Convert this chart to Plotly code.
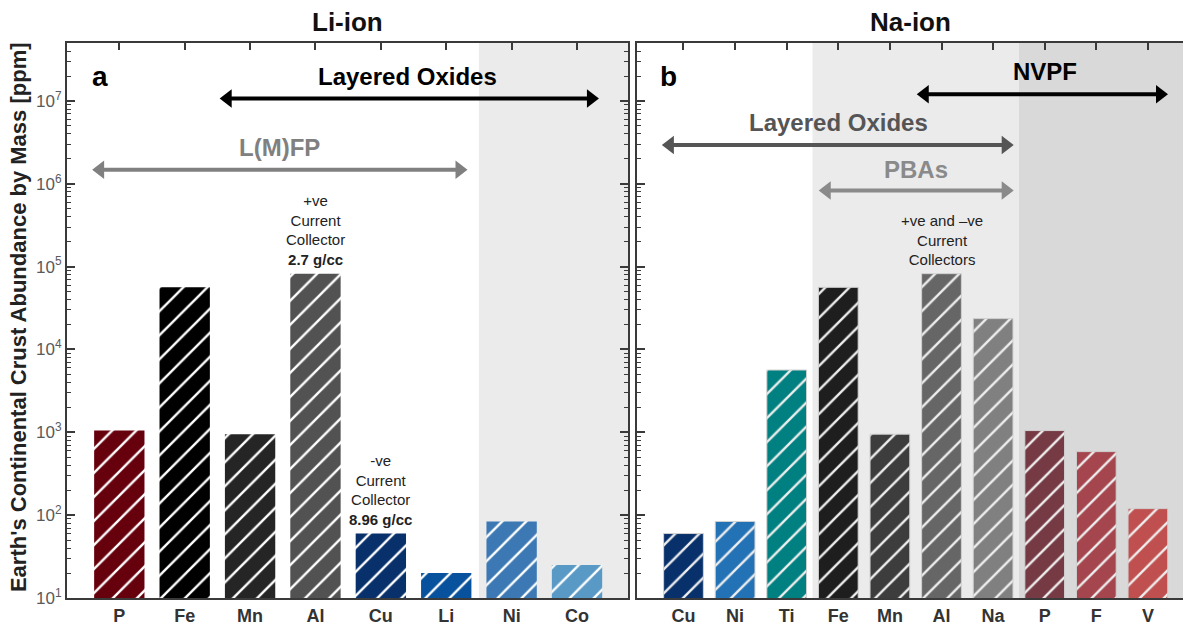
import math
import plotly.graph_objects as go

# Crustal abundances (ppm by mass)
li_elements = ["P", "Fe", "Mn", "Al", "Cu", "Li", "Ni", "Co"]
li_abundance = [1050, 56300, 950, 82300, 60, 20, 84, 25]
li_colors = ["#67000d", "#000000", "#252525", "#525252",
             "#08306b", "#08519c", "#3c79b4", "#5999c5"]

na_elements = ["Cu", "Ni", "Ti", "Fe", "Mn", "Al", "Na", "P", "F", "V"]
na_abundance = [60, 84, 5650, 56300, 950, 82300, 23600, 1050, 585, 120]
na_colors = ["#08306b", "#2472b6", "#008080", "#1e1e1e", "#3d3d3d",
             "#666666", "#808080", "#763a44", "#a5454d", "#c0504f"]

decades = [1, 2, 3, 4, 5, 6, 7]
tick_text = [f"10<sup>{d}</sup>" for d in decades]

FONT = "Arial, Liberation Sans, sans-serif"
AXIS_COLOR = "#3a3a3a"

LI_RANGE = [-0.8, 7.78]
NA_RANGE = [-0.9, 9.68]
LI_DOMAIN = [0, 0.5027]
NA_DOMAIN = [0.5108, 1]
PLOT_W = 1183 - 67


def hatched(colors, hatch_color, outline):
    # In "replace" mode the marker colour draws the hatch strokes and the
    # pattern background carries each bar's own fill colour.
    return dict(
        color=hatch_color,
        line=outline,
        pattern=dict(shape="/", fillmode="replace", bgcolor=list(colors),
                     size=17, solidity=0.14),
    )


fig = go.Figure()

fig.add_trace(go.Bar(
    x=list(range(len(li_elements))), y=li_abundance, xaxis="x", yaxis="y",
    marker=hatched(li_colors, "#ffffff", dict(width=0)),
    showlegend=False, hoverinfo="skip",
))
fig.add_trace(go.Bar(
    x=list(range(len(na_elements))), y=na_abundance, xaxis="x2", yaxis="y2",
    marker=hatched(na_colors, "#eeeeee", dict(width=1, color="#d0d0d0")),
    showlegend=False, hoverinfo="skip",
))

minor_vals = [m * 10 ** d for d in range(1, 8) for m in range(2, 10)]

def y_axis(show_labels, mirror):
    return dict(
        type="log", range=[1, 7.7],
        tickvals=[10 ** d for d in decades], ticktext=tick_text,
        showticklabels=show_labels,
        tickfont=dict(family=FONT, size=17, color="#5a5a5a"),
        ticks="inside", ticklen=8, tickwidth=1.5, tickcolor=AXIS_COLOR,
        minor=dict(tickmode="array", tickvals=minor_vals, ticks="inside",
                   ticklen=4, tickwidth=1, tickcolor=AXIS_COLOR),
        showline=True, linecolor=AXIS_COLOR, linewidth=2,
        mirror=mirror, showgrid=False, zeroline=False,
    )

def x_axis(labels, rng, domain, anchor):
    return dict(
        domain=domain, anchor=anchor, range=rng,
        tickmode="array", tickvals=list(range(len(labels))), ticktext=labels,
        tickfont=dict(family=FONT, size=18, color="#333333", weight="bold"),
        ticks="inside", ticklen=7, tickwidth=1.5, tickcolor=AXIS_COLOR,
        showline=True, linecolor=AXIS_COLOR, linewidth=2,
        mirror="ticks", layer="below traces",
        showgrid=False, zeroline=False,
    )

fig.update_layout(
    width=1183, height=626,
    margin=dict(l=67, r=0, t=43, b=24),
    plot_bgcolor="white", paper_bgcolor="white",
    bargap=0.23,
    xaxis=x_axis(li_elements, LI_RANGE, LI_DOMAIN, "y"),
    yaxis=y_axis(True, "allticks"),
    xaxis2=x_axis(na_elements, NA_RANGE, NA_DOMAIN, "y2"),
    yaxis2=dict(y_axis(False, False), anchor="x2"),
)

# Shaded bands
fig.add_shape(type="rect", xref="x", yref="paper", x0=5.5, x1=LI_RANGE[1], y0=0, y1=1,
              fillcolor="#ebebeb", line_width=0, layer="below")
fig.add_shape(type="rect", xref="x2", yref="paper", x0=2.5, x1=6.5, y0=0, y1=1,
              fillcolor="#ebebeb", line_width=0, layer="below")
fig.add_shape(type="rect", xref="x2", yref="paper", x0=6.5, x1=NA_RANGE[1], y0=0, y1=1,
              fillcolor="#d9d9d9", line_width=0, layer="below")


def span_arrow(axes, x0, x1, level, color):
    """Double-headed horizontal arrow drawn as a line with triangle heads."""
    xa, ya = axes
    rng, dom = (LI_RANGE, LI_DOMAIN) if xa == "x" else (NA_RANGE, NA_DOMAIN)
    px_per_unit = (dom[1] - dom[0]) * PLOT_W / (rng[1] - rng[0])
    head = 16
    d = (head / 2 - 1) / px_per_unit
    fig.add_trace(go.Scatter(
        x=[x0 + d, x1 - d], y=[10 ** level] * 2, xaxis=xa, yaxis=ya,
        mode="lines+markers", line=dict(color=color, width=4),
        marker=dict(symbol=["triangle-left", "triangle-right"], size=head,
                    color=color, line=dict(width=0)),
        showlegend=False, hoverinfo="skip", cliponaxis=False,
    ))


def label(xr, yr, x, y, text, color, size=24):
    return dict(x=x, y=y, xref=xr, yref=yr, text=f"<b>{text}</b>", showarrow=False,
                font=dict(family=FONT, size=size, color=color))

annotations = []

# Li-ion chemistries
span_arrow(("x", "y"), 1.55, 7.32, 7.03, "#000000")
span_arrow(("x", "y"), -0.4, 5.31, 6.17, "#808080")
annotations += [
    label("x", "y", 4.4, 7.29, "Layered Oxides", "#000000"),
    label("x", "y", 2.45, 6.44, "L(M)FP", "#808080"),
]
# Na-ion chemistries
span_arrow(("x2", "y2"), 4.54, 9.37, 7.08, "#000000")
span_arrow(("x2", "y2"), -0.4, 6.38, 6.47, "#555555")
span_arrow(("x2", "y2"), 2.64, 6.38, 5.92, "#8a8a8a")
annotations += [
    label("x2", "y2", 7.0, 7.35, "NVPF", "#000000"),
    label("x2", "y2", 3.0, 6.74, "Layered Oxides", "#555555"),
    label("x2", "y2", 4.5, 6.17, "PBAs", "#8a8a8a"),
]

# Current collector notes
def note(xr, yr, idx, value, text):
    return dict(x=idx, y=math.log10(value), xref=xr, yref=yr, text=text,
                showarrow=False, yanchor="bottom", yshift=4,
                font=dict(family=FONT, size=15, color="#222222"))

annotations += [
    note("x", "y", li_elements.index("Al"), li_abundance[li_elements.index("Al")],
         "+ve<br>Current<br>Collector<br><b>2.7 g/cc</b>"),
    note("x", "y", li_elements.index("Cu"), li_abundance[li_elements.index("Cu")],
         "-ve<br>Current<br>Collector<br><b>8.96 g/cc</b>"),
    note("x2", "y2", na_elements.index("Al"), na_abundance[na_elements.index("Al")],
         "+ve and \u2013ve<br>Current<br>Collectors"),
]

# Panel letters and titles
annotations += [
    label("x", "y", -0.3, 7.29, "a", "#000000", 28),
    label("x2", "y2", -0.3, 7.29, "b", "#000000", 28),
    dict(x=0.2513, y=1.0376, xref="paper", yref="paper", text="<b>Li-ion</b>",
         yanchor="middle", xanchor="center",
         showarrow=False, font=dict(family=FONT, size=26, color="#111111")),
    dict(x=0.7554, y=1.0376, xref="paper", yref="paper", text="<b>Na-ion</b>",
         yanchor="middle", xanchor="center",
         showarrow=False, font=dict(family=FONT, size=26, color="#111111")),
    dict(x=-0.044, y=0.506, xref="paper", yref="paper", textangle=-90,
         xanchor="center", yanchor="middle",
         text="<b>Earth's Continental Crust Abundance by Mass [ppm]</b>",
         showarrow=False, font=dict(family=FONT, size=22, color="#222222")),
]

fig.update_layout(annotations=annotations)

fig.write_html("out.html")
